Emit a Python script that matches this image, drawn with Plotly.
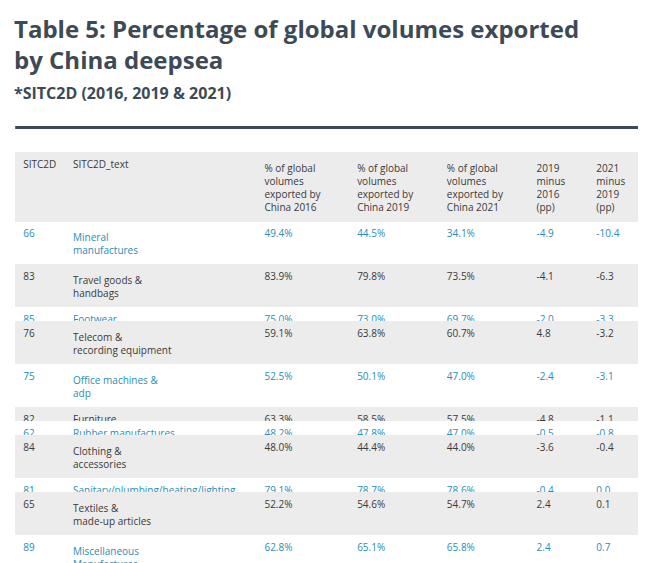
import plotly.graph_objects as go

codes = ["66", "83", "85", "76", "75", "82", "62", "84", "81", "65", "89", "69"]
names = ["Mineral<br>manufactures", "Travel goods &<br>handbags", "Footwear",
         "Telecom &<br>recording equipment", "Office machines &<br>adp", "Furniture",
         "Rubber manufactures", "Clothing &<br>accessories",
         "Sanitary/plumbing/heating/lighting", "Textiles &<br>made-up articles",
         "Miscellaneous<br>Manufactures", "Metal manufactures -<br>other"]
pct_2016 = ["49.4%", "83.9%", "75.0%", "59.1%", "52.5%", "63.3%", "48.2%", "48.0%", "79.1%", "52.2%", "62.8%", "57.2%"]
pct_2019 = ["44.5%", "79.8%", "73.0%", "63.8%", "50.1%", "58.5%", "47.8%", "44.4%", "78.7%", "54.6%", "65.1%", "58.8%"]
pct_2021 = ["34.1%", "73.5%", "69.7%", "60.7%", "47.0%", "57.5%", "47.0%", "44.0%", "78.6%", "54.7%", "65.8%", "60.2%"]
diff_19_16 = ["-4.9", "-4.1", "-2.0", "4.8", "-2.4", "-4.8", "-0.5", "-3.6", "-0.4", "2.4", "2.4", "1.7"]
diff_21_19 = ["-10.4", "-6.3", "-3.3", "-3.2", "-3.1", "-1.1", "-0.8", "-0.4", "0.0", "0.1", "0.7", "1.3"]
headers = ["SITC2D", "SITC2D_text",
           "% of global<br>volumes<br>exported by<br>China 2016",
           "% of global<br>volumes<br>exported by<br>China 2019",
           "% of global<br>volumes<br>exported by<br>China 2021",
           "2019<br>minus<br>2016<br>(pp)", "2021<br>minus<br>2019<br>(pp)"]

teal = "#2a8db5"
dark = "#3a3a3a"
grey = "#ececec"
fills = ["white" if i % 2 == 0 else grey for i in range(len(codes))]
fonts = [teal if i % 2 == 0 else dark for i in range(len(codes))]

fig = go.Figure(go.Table(
    columnwidth=[50, 192, 93, 90, 90, 60, 55],
    header=dict(values=headers, fill_color=grey, line_color=grey, align="left",
                font=dict(family="Open Sans", size=10, color=dark), height=14),
    cells=dict(values=[codes, names, pct_2016, pct_2019, pct_2021, diff_19_16, diff_21_19],
               fill_color=[fills] * 7, line_color=[fills] * 7, align="left",
               font=dict(family="Open Sans", size=10, color=[fonts] * 7), height=14),
    domain=dict(x=[0.005, 0.99], y=[0, 0.745]),
))

fig.add_shape(type="line", xref="paper", yref="paper", x0=0.005, x1=0.99, y0=0.79, y1=0.79,
              line=dict(color="#3d4a55", width=3))
fig.add_annotation(text="<b>Table 5: Percentage of global volumes exported<br>by China deepsea</b>",
                   xref="paper", yref="paper", x=0.0, y=1.0, xanchor="left", yanchor="top",
                   showarrow=False, align="left", font=dict(family="Open Sans", size=24, color="#3d4a55"))
fig.add_annotation(text="<b>*SITC2D (2016, 2019 & 2021)</b>",
                   xref="paper", yref="paper", x=0.0, y=0.875, xanchor="left", yanchor="top",
                   showarrow=False, align="left", font=dict(family="Open Sans", size=16, color="#3d4a55"))

fig.update_layout(width=646, height=563, margin=dict(l=4, r=4, t=2, b=2),
                  paper_bgcolor="white", plot_bgcolor="white")
fig.write_html("out.html")
